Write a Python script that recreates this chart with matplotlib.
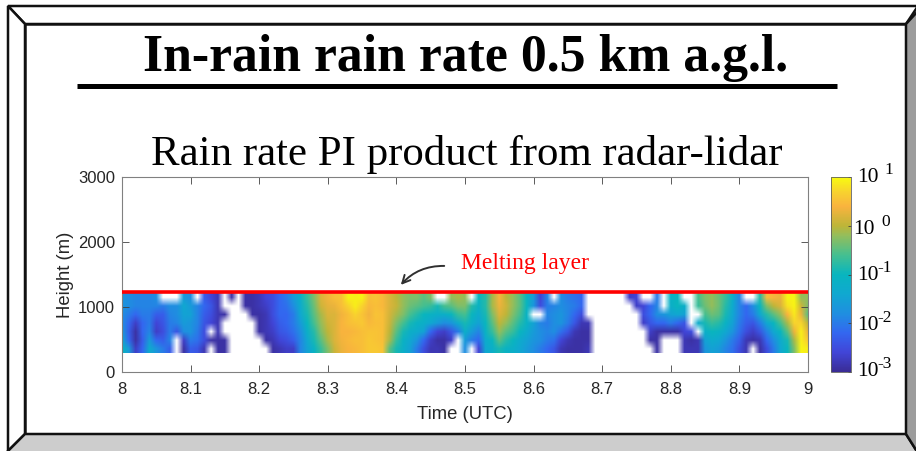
import numpy as np
import matplotlib
matplotlib.use('Agg')
import matplotlib.pyplot as plt
from matplotlib.colors import LinearSegmentedColormap
from matplotlib.patches import Polygon, Rectangle

n = np.nan

# log10 of rain rate, one list per height, 8.00 to 9.00 UTC every 0.01 h
times = [8 + k / 100 for k in range(101)]
heights = [365, 496, 627, 757, 888, 1019, 1150]

rain_365 = [-1.0,-1.6,-2.7,-2.2,-1.3,-1.7,-2.0,-2.3,n,-2.9,
            -2.3,-2.4,-2.8,n,-2.9,-2.9,n,n,n,n,
            n,n,-2.9,-2.8,-2.7,-2.7,-1.9,-1.5,-1.1,-0.7,
            -0.3,0.1,0.3,0.4,0.45,0.5,0.6,0.6,0.55,-0.5,
            -0.9,-1.2,-1.5,-2.0,-2.5,-2.8,-2.8,-2.9,n,n,
            -1.8,n,-2.6,-1.4,-1.2,-0.9,-1.1,-1.2,-1.4,-1.6,
            -1.8,-2.0,-2.2,-2.4,-2.8,-2.9,-2.9,-2.9,-2.8,n,
            n,n,n,n,n,n,n,n,-2.9,n,
            n,n,-2.8,-2.8,-2.8,-1.7,-1.5,-1.6,-1.9,-2.1,
            -2.5,-2.8,n,-2.9,-2.5,-2.0,-1.4,-1.0,-0.3,0.95,0.9]
rain_496 = [-1.3,-2.2,-2.9,-2.3,-1.6,-2.2,-2.3,-1.9,n,-2.7,
            -2.0,-2.1,-2.5,-2.9,-2.9,-2.9,n,n,n,n,
            n,-2.9,-2.8,-2.6,-2.5,-2.3,-1.9,-1.4,-0.9,-0.5,
            -0.1,0.2,0.35,0.45,0.5,0.5,0.6,0.55,0.5,-0.1,
            -0.7,-1.1,-1.4,-1.7,-2.2,-2.7,-2.9,-2.9,-2.7,n,
            -1.6,-2.0,-2.2,-1.3,-1.0,-0.5,-0.8,-1.0,-1.3,-1.5,
            -1.7,-1.8,-2.0,-2.1,-2.6,-2.8,-2.9,-2.9,-2.9,n,
            n,n,n,n,n,n,n,-2.9,-2.9,n,
            n,n,-2.8,-2.9,-2.8,-1.5,-1.3,-1.4,-1.7,-2.0,
            -2.3,-2.8,-2.9,-2.8,-2.2,-1.8,-1.3,-0.9,-0.1,0.9,0.6]
rain_627 = [-1.6,-2.3,-2.9,-2.2,-1.9,-2.7,-2.5,-2.0,-2.4,-1.8,
            -1.7,-2.0,-2.5,n,-2.8,n,n,n,n,n,
            -2.9,-2.8,-2.7,-2.4,-2.3,-2.1,-1.8,-1.2,-0.8,-0.3,
            0.0,0.2,0.4,0.4,0.45,0.5,0.55,0.55,0.5,0.0,
            -0.5,-0.9,-1.2,-1.3,-1.5,-2.2,-2.6,-2.7,-2.4,-2.0,
            -1.2,-1.6,-1.9,-1.1,-0.7,-0.2,-0.5,-0.7,-1.0,-1.3,
            -1.6,-1.8,-1.9,-1.8,-2.1,-2.4,-2.8,-2.9,-2.9,n,
            n,n,n,n,n,n,n,-2.7,-2.9,-2.9,
            -2.9,-2.9,-2.6,-2.5,n,-1.2,-1.0,-1.1,-1.4,-1.7,
            -2.1,-2.5,-2.7,-2.4,-1.9,-1.4,-1.0,-0.5,0.3,0.9,0.3]
rain_757 = [-1.8,-2.2,-2.7,-2.2,-2.0,-2.6,-2.4,-2.0,-1.9,-1.6,
            -1.7,-1.9,-2.4,-2.6,-2.8,n,n,n,n,n,
            -2.9,-2.8,-2.6,-2.3,-2.2,-2.0,-1.6,-1.0,-0.6,-0.2,
            0.1,0.2,0.4,0.5,0.55,0.6,0.45,0.5,0.5,0.1,
            -0.3,-0.6,-0.9,-1.1,-1.2,-1.4,-1.6,-1.8,-1.7,-1.3,
            -0.9,-1.2,-1.5,-1.0,-0.5,0.0,-0.2,-0.5,-0.8,-1.1,
            -1.5,-1.9,-2.0,-1.8,-1.7,-2.0,-2.4,-2.8,-2.8,n,
            n,n,n,n,n,n,-2.7,-2.4,-2.2,-2.2,
            -2.0,-2.2,-2.4,n,-1.3,-0.9,-0.7,-0.8,-1.1,-1.5,
            -2.0,-2.3,-2.4,-2.0,-1.4,-1.0,-0.6,-0.1,0.7,0.7,0.0]
rain_888 = [-1.8,-2.0,-2.2,-2.0,-2.0,-2.3,-2.3,-1.9,-1.8,-1.5,
            -1.5,-1.9,-2.3,-2.5,-2.8,-2.9,n,n,n,-2.9,
            -2.9,-2.8,-2.5,-2.2,-2.2,-2.0,-1.4,-0.9,-0.5,-0.1,
            0.2,0.2,0.35,0.5,0.7,0.55,0.35,0.55,0.5,0.15,
            -0.1,-0.3,-0.6,-0.8,-1.0,-1.1,-1.2,-1.2,-1.0,-0.7,
            -0.6,-1.0,-1.3,-0.9,-0.3,0.2,0.0,-0.3,-0.6,-1.1,
            n,n,-1.9,-1.8,-1.7,-1.9,-2.2,-2.5,n,n,
            n,n,n,n,n,n,-2.5,-2.2,-1.8,-1.7,
            -1.5,-1.4,-1.5,n,n,-0.6,-0.4,-0.5,-0.9,-1.4,
            -1.9,-2.2,-2.0,-1.4,-0.8,-0.5,-0.2,0.4,0.85,0.3,-0.5]
rain_1019 = [-1.7,-1.8,-1.9,-1.9,-1.9,-1.9,-2.0,-1.8,-1.8,-1.4,
             -1.6,-1.9,-2.2,-2.4,-2.8,n,n,n,-2.9,-2.9,
             -2.8,-2.7,-2.5,-2.2,-2.1,-1.8,-1.3,-0.8,-0.4,0.1,
             0.25,0.3,0.5,0.7,0.9,0.7,0.45,0.5,0.45,0.2,
             0.05,-0.2,-0.4,-0.5,-0.6,-0.7,-0.9,-0.6,-0.5,-0.3,
             -0.3,-0.8,-1.1,-0.8,-0.1,0.3,0.1,-0.2,-0.5,-1.0,
             -1.7,-2.5,-2.0,-1.9,-1.8,-1.9,-2.0,-2.2,n,n,
             n,n,n,n,n,-2.7,-2.6,-2.2,-1.9,n,
             -1.2,-1.0,-1.2,n,-0.7,-0.4,-0.2,-0.4,-0.8,-1.3,
             -1.9,-2.2,-1.8,-1.0,-0.3,0.0,0.2,0.8,0.95,0.1,-0.3]
rain_1150 = [-1.7,-1.8,-1.9,-1.9,-1.9,-1.8,n,n,n,-1.6,
             -1.8,n,-2.3,-2.6,-2.8,n,-2.9,n,-2.9,-2.9,
             -2.8,-2.6,-2.5,-2.2,-2.0,-1.6,-1.2,-0.7,-0.3,0.2,
             0.35,0.5,0.55,0.95,0.9,0.95,0.5,0.55,0.45,0.2,
             0.0,-0.2,-0.3,-0.3,-0.5,-0.3,n,n,-0.2,-0.1,
             -0.2,n,-1.0,-0.8,-0.1,0.4,0.0,-0.2,-0.5,-1.0,
             -1.6,-2.6,-1.9,n,-1.8,-2.0,-2.1,-2.2,n,n,
             n,n,n,n,-2.7,-2.6,n,n,-2.0,n,
             -1.1,-1.0,n,n,-0.6,-0.3,-0.2,-0.4,-0.7,-1.2,
             -1.9,n,n,-0.8,0.5,0.4,0.3,0.95,0.95,-0.2,-0.2]

melting_layer_height = 1230
xticks = [8, 8.1, 8.2, 8.3, 8.4, 8.5, 8.6, 8.7, 8.8, 8.9, 9]
xticklabels = ['8', '8.1', '8.2', '8.3', '8.4', '8.5', '8.6', '8.7', '8.8', '8.9', '9']
yticks = [0, 1000, 2000, 3000]
cbar_ticks = [-3, -2, -1, 0, 1]
cbar_powers = ['-3', '-2', '-1', '0', '1']

W, H = 916, 451
SERIF = 'Liberation Serif'
SANS = 'Liberation Sans'

# parula-like map
parula = LinearSegmentedColormap.from_list('parula_ish', [
    (0.00, '#3a2c95'), (0.10, '#4145d8'), (0.20, '#3367f0'), (0.30, '#1f8fe0'),
    (0.40, '#10a8d0'), (0.50, '#08b5bf'), (0.60, '#45bf90'), (0.70, '#93be5c'),
    (0.75, '#bdb538'), (0.85, '#f9b33e'), (0.92, '#f8d030'), (1.00, '#f8fa10')])
parula.set_bad('white', 1)


def box(x0, y0, x1, y1):
    # pixel box from the top left of the picture -> figure fractions
    return [x0 / W, 1 - y1 / H, (x1 - x0) / W, (y1 - y0) / H]


fig = plt.figure(figsize=(W / 100, H / 100), dpi=100, facecolor='white')

# bevelled frame drawn in pixel coordinates
bg = fig.add_axes([0, 0, 1, 1], zorder=0)
bg.set_xlim(0, W)
bg.set_ylim(H, 0)
bg.axis('off')
bg.add_patch(Polygon([(8, 6), (918, 6), (906, 24), (25, 24)], fc='white', ec='#111111', lw=1.8, zorder=1))
bg.add_patch(Polygon([(8, 6), (25, 24), (25, 434), (8, 451)], fc='white', ec='#111111', lw=1.8, zorder=1))
bg.add_patch(Rectangle((25, 24), 881, 410, fc='white', ec='#111111', lw=1.8, zorder=1))
bg.add_patch(Polygon([(25, 434), (906, 434), (918, 453), (6, 453)], fc='#cdcdcd', ec='#111111', lw=1.8, zorder=2))

bg.text(466, 58, 'In-rain rain rate 0.5 km a.g.l.', family=SERIF, weight='bold',
        fontsize=37.3, ha='center', va='center', color='black')
bg.plot([77, 837], [86, 86], color='black', lw=3.6, solid_capstyle='butt')
bg.text(467, 155, 'Rain rate PI product from radar-lidar', family=SERIF,
        fontsize=30.9, ha='center', va='center', color='black')

# radar-lidar panel
ax = fig.add_axes(box(122, 177, 808, 372), zorder=1)
rain = np.array([rain_365, rain_496, rain_627, rain_757, rain_888, rain_1019, rain_1150])
dt = times[1] - times[0]
dh = heights[1] - heights[0]
im = ax.imshow(np.ma.masked_invalid(rain), origin='lower', aspect='auto', cmap=parula,
               vmin=-3, vmax=1, interpolation='bilinear', interpolation_stage='rgba',
               extent=[times[0] - dt / 2, times[-1] + dt / 2,
                       heights[0] - dh / 2, heights[-1] + dh / 2])
ax.axhline(melting_layer_height, color='#ff0000', lw=2.6, zorder=3)
ax.set_xlim(8, 9)
ax.set_ylim(0, 3000)
ax.set_xticks(xticks)
ax.set_xticklabels(xticklabels)
ax.set_yticks(yticks)
ax.tick_params(direction='in', top=True, right=True, length=5, width=0.6, color='#404040',
               labelcolor='#262626', labelsize=12)
ax.tick_params(axis='x', pad=7)
ax.tick_params(axis='y', pad=5)
for lab in ax.get_xticklabels() + ax.get_yticklabels():
    lab.set_family(SANS)
for sp in ax.spines.values():
    sp.set_color('#808080')
    sp.set_linewidth(0.8)
ax.set_xlabel('Time (UTC)', family=SANS, fontsize=13.3, color='#262626', labelpad=7)
ax.set_ylabel('Height (m)', family=SANS, fontsize=13.3, color='#262626', labelpad=3)

# colorbar, its labels are typed on top of the figure
cax = fig.add_axes(box(831, 177, 851, 372), zorder=1)
cb = fig.colorbar(im, cax=cax)
cb.set_ticks(cbar_ticks)
cb.set_ticklabels([])
cax.tick_params(direction='in', length=2.5, width=0.6, color='#404040')
cb.outline.set_edgecolor('#606060')
cb.outline.set_linewidth(0.6)

top = fig.add_axes([0, 0, 1, 1], zorder=2)
top.set_xlim(0, W)
top.set_ylim(H, 0)
top.axis('off')
top.add_patch(Polygon([(906, 24), (918, 11), (918, 453), (906, 434)], fc='#9c9c9c', ec='#111111', lw=1.8))
label_y = {-3: 371, -2: 325, -1: 275, 0: 229, 1: 177}
for tick, power in zip(cbar_ticks, cbar_powers):
    y = label_y[tick]
    x = 853 if tick == 0 else 857
    top.text(x, y, '10', family=SERIF, fontsize=15.5, ha='left', va='center', color='black')
    if power.startswith('-'):
        px = 877.5
    else:
        px = 881 if tick == 0 else 884
    top.text(px, y - 7, power, family=SERIF, fontsize=12.5, ha='left', va='center', color='black')

top.text(461, 264, 'Melting layer', family=SERIF, fontsize=17, color='#ff0000', ha='left', va='center')
top.annotate('', xy=(399, 287), xytext=(447, 266),
             arrowprops=dict(arrowstyle='->', color='#303030', lw=1.4,
                             connectionstyle='arc3,rad=0.25', mutation_scale=14))

# grey right side of the bevel, in its own axes above everything
edge = fig.add_axes(box(908, 26, 916, 434), zorder=10, facecolor='#9c9c9c')
edge.set_xticks([])
edge.set_yticks([])
for sp in edge.spines.values():
    sp.set_visible(False)

fig.savefig('out.png', dpi=100)
